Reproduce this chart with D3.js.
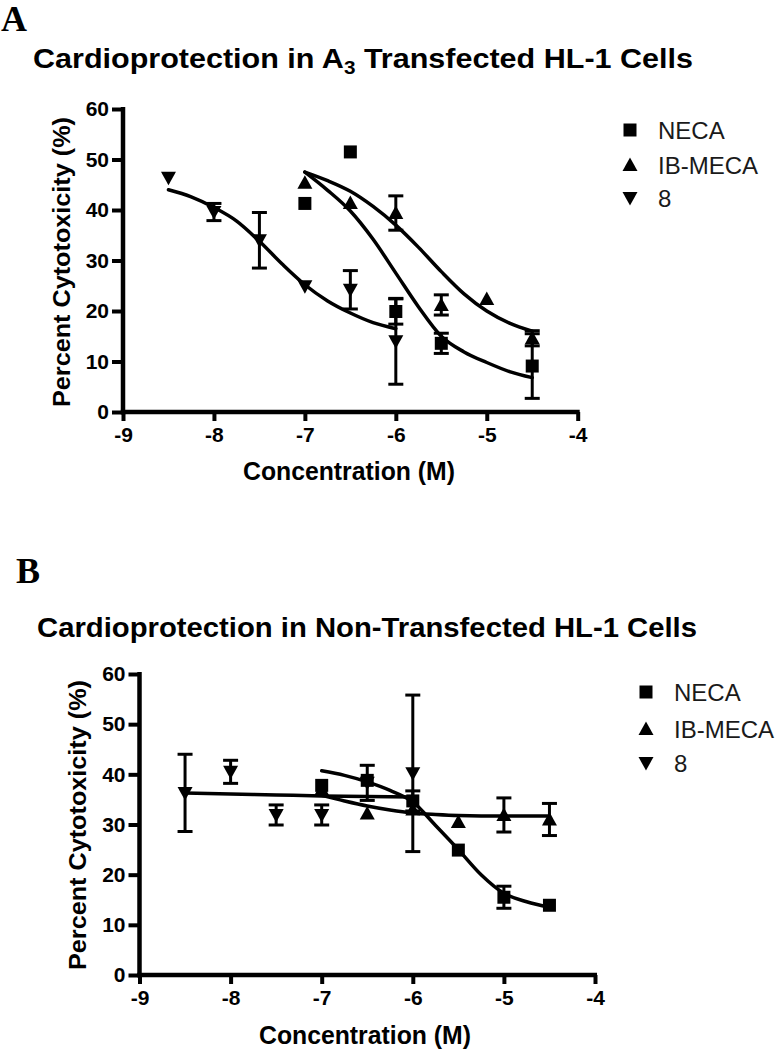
<!DOCTYPE html>
<html>
<head>
<meta charset="utf-8">
<script src="https://cdn.jsdelivr.net/npm/d3@7"></script>
<style>
html,body{margin:0;padding:0;background:#fff;}
svg{display:block;}
</style>
</head>
<body>
<svg id="chart" width="780" height="1049"></svg>
<script>
// ---------- data ----------
const seriesNames = ["NECA", "IB-MECA", "8"];
const xTicks = [-9, -8, -7, -6, -5, -4];
const yTicks = [0, 10, 20, 30, 40, 50, 60];

// Panel A: A3 transfected
const aNecaX = [-7, -6.5, -6, -5.5, -4.5];
const aNecaY = [41.3, 51.5, 19.9, 13.6, 9.1];
const aNecaErr = [0, 0, 2.5, 2.0, 6.4];
const aIbX = [-7, -6.5, -6, -5.5, -5, -4.5];
const aIbY = [45.4, 41.4, 39.4, 21.2, 22.4, 14.6];
const aIbErr = [0, 0, 3.4, 2.0, 0, 1.5];
const a8X = [-8.5, -8, -7.5, -7, -6.5, -6];
const a8Y = [46.4, 39.6, 34.0, 24.9, 24.2, 14.0];
const a8Err = [0, 1.7, 5.5, 0, 3.8, 8.5];

// fitted curves
const aNecaFitX = [-7, -6.75, -6.5, -6.25, -6, -5.75, -5.5, -5.25, -5, -4.75, -4.5];
const aNecaFitY = [47.5, 43.9, 39.8, 34.2, 27.5, 20.8, 15.0, 11.9, 9.8, 8.0, 6.8];
const aIbFitX = [-7, -6.75, -6.5, -6.25, -6, -5.75, -5.5, -5.25, -5, -4.75, -4.5];
const aIbFitY = [47.5, 45.8, 43.7, 40.7, 37.0, 32.6, 27.8, 23.4, 20.0, 17.6, 16.0];
const a8FitX = [-8.5, -8.25, -8, -7.75, -7.5, -7.25, -7, -6.75, -6.5, -6.25, -6];
const a8FitY = [44.0, 42.6, 40.5, 37.8, 33.8, 29.3, 25.2, 22.0, 19.6, 17.7, 16.5];

// Panel B: non-transfected
const bNecaX = [-7, -6.5, -6, -5.5, -5, -4.5];
const bNecaY = [37.8, 38.8, 34.7, 24.9, 15.5, 13.9];
const bNecaErr = [0, 0, 2.0, 0, 2.2, 0];
const bIbX = [-7, -6.5, -6, -5.5, -5, -4.5];
const bIbY = [37.0, 32.2, 33.0, 30.5, 31.9, 31.0];
const bIbErr = [0, 0, 0, 0, 3.4, 3.2];
const b8X = [-8.5, -8, -7.5, -7, -6.5, -6];
const b8Y = [36.3, 40.5, 31.9, 31.9, 38.3, 40.2];
const b8Err = [7.7, 2.3, 2.0, 2.0, 3.5, 15.6];

const bNecaFitX = [-7, -6.75, -6.5, -6.25, -6, -5.75, -5.5, -5.25, -5, -4.75, -4.5];
const bNecaFitY = [40.7, 39.8, 38.5, 36.8, 34.5, 29.8, 25.0, 20.0, 16.3, 14.6, 13.5];
const bIbFitX = [-7, -6.75, -6.5, -6.25, -6, -5.75, -5.5, -5, -4.5];
const bIbFitY = [35.8, 34.7, 33.7, 32.9, 32.3, 32.0, 31.8, 31.7, 31.7];
const b8FitX = [-8.5, -8, -7.5, -7, -6.5, -6];
const b8FitY = [36.3, 36.1, 35.9, 35.7, 35.6, 35.5];

// ---------- drawing ----------
const svg = d3.select("#chart");
const FONT = "'Liberation Sans', Arial, Helvetica, sans-serif";
const SERIF = "'Liberation Serif', 'Times New Roman', serif";

function zip(xs, ys, es) {
  return xs.map((x, i) => ({x: x, y: ys[i], e: es ? es[i] : 0}));
}

function markerPath(shape) {
  if (shape === "square") return "M-6.5,-6.5H6.5V6.5H-6.5Z";
  if (shape === "up") return "M0,-7.5L7.5,6L-7.5,6Z";
  return "M0,7.5L7.5,-6L-7.5,-6Z";
}

function drawPanel(cfg) {
  const g = svg.append("g");
  const x = d3.scaleLinear().domain([-9, -4]).range(cfg.xRange);
  const y = d3.scaleLinear().domain([0, 60]).range(cfg.yRange);

  // letter
  g.append("text").attr("x", cfg.letter.x).attr("y", cfg.letter.y)
    .attr("font-family", SERIF).attr("font-weight", "bold")
    .attr("font-size", 36).text(cfg.letter.t);

  // title
  const title = g.append("text").attr("x", cfg.title.x).attr("y", cfg.title.y)
    .attr("font-family", FONT).attr("font-weight", "bold").attr("font-size", 28)
    .attr("textLength", cfg.title.len).attr("lengthAdjust", "spacingAndGlyphs");
  cfg.title.parts.forEach(p => {
    const ts = title.append("tspan").text(p.t);
    if (p.sub) ts.attr("font-size", 19).attr("dy", 6);
    if (p.after) ts.attr("dy", -6);
  });

  // axes
  const yAxis = d3.axisLeft(y).tickValues(yTicks).tickSize(11).tickPadding(3);
  const xAxis = d3.axisBottom(x).tickValues(xTicks).tickSize(9).tickPadding(6)
    .tickFormat(d3.format("d"));
  const gy = g.append("g").attr("transform", `translate(${cfg.xRange[0]},0)`).call(yAxis);
  const gx = g.append("g").attr("transform", `translate(0,${cfg.yRange[0]})`).call(xAxis);
  [gx, gy].forEach(a => {
    a.select(".domain").attr("stroke", "#000").attr("stroke-width", 4.5)
      .attr("d", null);
    a.selectAll(".tick line").attr("stroke", "#000").attr("stroke-width", 4);
    a.selectAll(".tick text").attr("font-family", FONT).attr("font-weight", "bold")
      .attr("font-size", 21).attr("fill", "#000")
      .text(d => String(d).replace("-", "-"));
  });
  gy.select(".domain").remove();
  gx.select(".domain").remove();
  g.append("line").attr("x1", cfg.xRange[0]).attr("x2", cfg.xRange[0])
    .attr("y1", y(60) - 2).attr("y2", y(0) + 2.2)
    .attr("stroke", "#000").attr("stroke-width", 4.5);
  g.append("line").attr("x1", x(-9) - 2.2).attr("x2", x(-4) + 2)
    .attr("y1", y(0)).attr("y2", y(0))
    .attr("stroke", "#000").attr("stroke-width", 4.5);
  gx.selectAll(".tick text").attr("dy", "0.71em");

  // axis labels
  g.append("text")
    .attr("transform", `translate(${cfg.yLabel.x},${cfg.yLabel.y}) rotate(-90)`)
    .attr("text-anchor", "middle").attr("font-family", FONT).attr("font-weight", "bold")
    .attr("font-size", 24).attr("textLength", 290).attr("lengthAdjust", "spacingAndGlyphs")
    .text("Percent Cytotoxicity (%)");
  g.append("text").attr("x", cfg.xLabel.x).attr("y", cfg.xLabel.y)
    .attr("text-anchor", "middle").attr("font-family", FONT).attr("font-weight", "bold")
    .attr("font-size", 25).attr("textLength", 212).attr("lengthAdjust", "spacingAndGlyphs")
    .text("Concentration (M)");

  // curves
  const line = d3.line().x(d => x(d.x)).y(d => y(d.y)).curve(d3.curveMonotoneX);
  cfg.series.forEach(s => {
    g.append("path").datum(zip(s.fitX, s.fitY)).attr("d", line)
      .attr("fill", "none").attr("stroke", "#000").attr("stroke-width", 3.5)
      .attr("stroke-linecap", "round");
  });

  // error bars
  cfg.series.forEach(s => {
    const pts = zip(s.x, s.y, s.err).filter(d => d.e > 0);
    const eg = g.append("g").attr("stroke", "#000").attr("stroke-width", 3);
    pts.forEach(d => {
      eg.append("line").attr("x1", x(d.x)).attr("x2", x(d.x))
        .attr("y1", y(d.y + d.e)).attr("y2", y(d.y - d.e));
      eg.append("line").attr("x1", x(d.x) - 7.5).attr("x2", x(d.x) + 7.5)
        .attr("y1", y(d.y + d.e)).attr("y2", y(d.y + d.e));
      eg.append("line").attr("x1", x(d.x) - 7.5).attr("x2", x(d.x) + 7.5)
        .attr("y1", y(d.y - d.e)).attr("y2", y(d.y - d.e));
    });
  });

  // markers
  cfg.series.slice().reverse().forEach(s => {
    g.append("g").selectAll("path").data(zip(s.x, s.y)).join("path")
      .attr("transform", d => `translate(${x(d.x)},${y(d.y)})`)
      .attr("d", markerPath(s.shape)).attr("fill", "#000");
  });

  // legend
  const lg = g.append("g");
  cfg.series.forEach((s, i) => {
    const cy = cfg.legend.y[i];
    lg.append("path").attr("transform", `translate(${cfg.legend.mx},${cy})`)
      .attr("d", markerPath(s.shape)).attr("fill", "#000");
    lg.append("text").attr("x", cfg.legend.tx).attr("y", cy + 8.5)
      .attr("font-family", FONT).attr("font-size", 24).attr("fill", "#1a1a1a")
      .text(seriesNames[i]);
  });
}

drawPanel({
  xRange: [123, 577.7], yRange: [412, 109],
  letter: {x: 1, y: 31, t: "A"},
  title: {x: 33, y: 68, len: 660, parts: [
    {t: "Cardioprotection in A"}, {t: "3", sub: true},
    {t: " Transfected HL-1 Cells", after: true}]},
  yLabel: {x: 70, y: 262},
  xLabel: {x: 349, y: 480},
  legend: {mx: 630, tx: 658, y: [130, 165, 198]},
  series: [
    {x: aNecaX, y: aNecaY, err: aNecaErr, fitX: aNecaFitX, fitY: aNecaFitY, shape: "square"},
    {x: aIbX, y: aIbY, err: aIbErr, fitX: aIbFitX, fitY: aIbFitY, shape: "up"},
    {x: a8X, y: a8Y, err: a8Err, fitX: a8FitX, fitY: a8FitY, shape: "down"}
  ]
});

drawPanel({
  xRange: [139.5, 595], yRange: [975, 674],
  letter: {x: 16, y: 583, t: "B"},
  title: {x: 37, y: 637, len: 660, parts: [
    {t: "Cardioprotection in Non-Transfected HL-1 Cells"}]},
  yLabel: {x: 86, y: 825},
  xLabel: {x: 365, y: 1044},
  legend: {mx: 646, tx: 674, y: [692, 729, 763]},
  series: [
    {x: bNecaX, y: bNecaY, err: bNecaErr, fitX: bNecaFitX, fitY: bNecaFitY, shape: "square"},
    {x: bIbX, y: bIbY, err: bIbErr, fitX: bIbFitX, fitY: bIbFitY, shape: "up"},
    {x: b8X, y: b8Y, err: b8Err, fitX: b8FitX, fitY: b8FitY, shape: "down"}
  ]
});
</script>
</body>
</html>
